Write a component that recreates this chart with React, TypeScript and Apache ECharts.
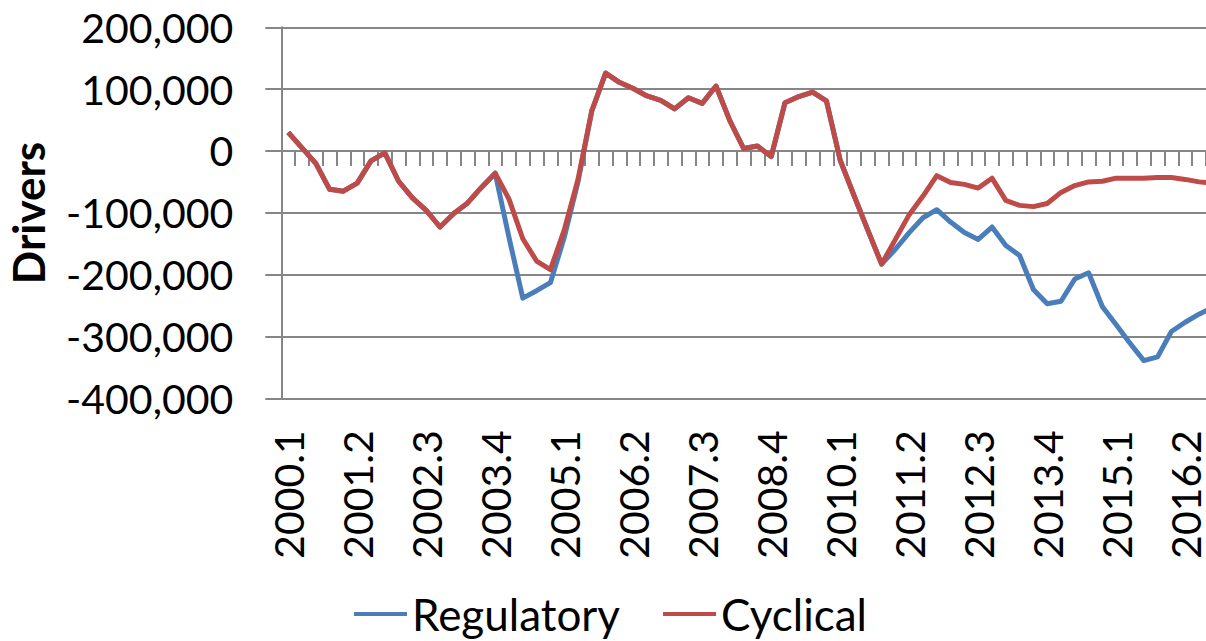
import React, { useEffect, useRef } from "react";
import * as echarts from "echarts";

// Quarterly categories 2000.1 … 2016.4
const years = [2000, 2001, 2002, 2003, 2004, 2005, 2006, 2007, 2008, 2009, 2010, 2011, 2012, 2013, 2014, 2015, 2016];
const quarters = [1, 2, 3, 4];
const categories: string[] = [];
years.forEach((y) => quarters.forEach((q) => categories.push(`${y}.${q}`)));

const regulatory = [
  30000, 5000, -20000, -62000, -65000, -52000, -16000, -3000, -49000, -76000,
  -96000, -123000, -101000, -84000, -59000, -36000, -140000, -238000, -226000, -213000,
  -140000, -50000, 65000, 126000, 111000, 101000, 89000, 82000, 68000, 86000,
  77000, 105000, 49000, 4000, 8000, -9000, 78000, 88000, 95000, 81000,
  -15000, -72000, -128000, -183000, -159000, -132000, -108000, -95000, -115000, -132000,
  -143000, -123000, -153000, -169000, -224000, -247000, -243000, -207000, -197000, -252000,
  -281000, -311000, -339000, -333000, -292000, -277000, -264000, -253000,
];

const cyclical = [
  30000, 5000, -20000, -62000, -65000, -52000, -16000, -3000, -49000, -76000,
  -96000, -123000, -101000, -84000, -59000, -36000, -78000, -142000, -178000, -192000,
  -128000, -46000, 65000, 126000, 111000, 101000, 89000, 82000, 68000, 86000,
  77000, 105000, 49000, 4000, 8000, -9000, 78000, 88000, 95000, 81000,
  -15000, -72000, -128000, -183000, -143000, -103000, -73000, -40000, -51000, -54000,
  -60000, -44000, -80000, -88000, -90000, -85000, -67000, -56000, -50000, -49000,
  -44000, -44000, -44000, -43000, -43000, -46000, -50000, -52000,
];

const yMin = -400000;
const yMax = 200000;
const yStep = 100000;

const FONT = "Lato, 'Open Sans', sans-serif";
const GRID_GRAY = "#868686";
const BLUE = "#4A7EBB";
const RED = "#BE4B48";

export default function App() {
  const ref = useRef<HTMLDivElement>(null);

  useEffect(() => {
    if (!ref.current) return;
    const chart = echarts.init(ref.current, undefined, { renderer: "svg" });
    chart.setOption({
      animation: false,
      backgroundColor: "#ffffff",
      grid: { left: 281.3, top: 27.3, right: 2.3, bottom: 242.7, containLabel: false },
      legend: {
        data: ["Regulatory", "Cyclical"],
        left: 354,
        top: 592,
        padding: 0,
        icon: "rect",
        itemWidth: 53,
        itemHeight: 4,
        itemGap: 43,
        textStyle: { fontSize: 44, fontFamily: FONT, color: "#000", padding: [0, 0, 10, 0] },
      },
      graphic: [
        {
          type: "text",
          x: 28,
          y: 213,
          rotation: Math.PI / 2,
          style: {
            text: "Drivers",
            font: `bold 44px ${FONT}`,
            fill: "#000",
            align: "center",
            verticalAlign: "middle",
          },
        },
      ],
      xAxis: [
        {
          type: "category",
          data: categories,
          position: "bottom",
          boundaryGap: true,
          axisLine: { onZero: true, lineStyle: { color: GRID_GRAY, width: 2 } },
          axisTick: { show: true, interval: 0, length: 15, lineStyle: { color: GRID_GRAY, width: 2 } },
          axisLabel: { show: false },
          splitLine: { show: false },
        },
        {
          type: "category",
          data: categories,
          position: "bottom",
          boundaryGap: true,
          axisLine: { show: false, onZero: false },
          axisTick: { show: false },
          axisLabel: {
            show: true,
            interval: 4,
            rotate: 90,
            margin: 32,
            fontSize: 41,
            lineHeight: 34,
            fontFamily: FONT,
            color: "#000",
          },
          splitLine: { show: false },
        },
      ],
      yAxis: {
        type: "value",
        min: yMin,
        max: yMax,
        interval: yStep,
        axisLine: { show: true, lineStyle: { color: GRID_GRAY, width: 2 } },
        axisTick: { show: true, length: 16, lineStyle: { color: GRID_GRAY, width: 2 } },
        axisLabel: {
          margin: 48,
          fontSize: 41,
          fontFamily: FONT,
          color: "#000",
          formatter: (v: number) => v.toLocaleString("en-US"),
        },
        splitLine: { show: true, lineStyle: { color: GRID_GRAY, width: 2 } },
      },
      series: [
        {
          name: "Regulatory",
          type: "line",
          xAxisIndex: 0,
          data: regulatory,
          symbol: "none",
          lineStyle: { color: BLUE, width: 5, join: "round" },
          itemStyle: { color: BLUE },
        },
        {
          name: "Cyclical",
          type: "line",
          xAxisIndex: 0,
          data: cyclical,
          symbol: "none",
          lineStyle: { color: RED, width: 5, join: "round" },
          itemStyle: { color: RED },
        },
      ],
    });
    return () => chart.dispose();
  }, []);

  return (
    <div
      style={{
        position: "absolute",
        left: 0,
        top: 0,
        width: 1206,
        height: 641,
        overflow: "hidden",
        background: "#fff",
      }}
    >
      <div ref={ref} style={{ width: 1222, height: 641 }} />
    </div>
  );
}
